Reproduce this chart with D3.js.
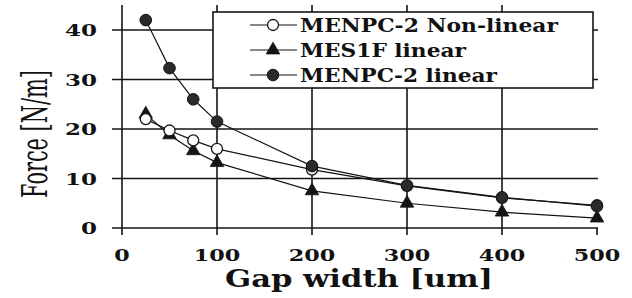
<!DOCTYPE html>
<html><head><meta charset="utf-8">
<script src="https://cdn.jsdelivr.net/npm/d3@7"></script>
<style>
html,body{margin:0;padding:0;background:#fff;}
</style></head>
<body><svg id="c" width="632" height="298"></svg>
<script>
const gapWidth = [25, 50, 75, 100, 200, 300, 400, 500];
const menpcNonLinear = [22, 19.7, 17.7, 16, 11.8, 8.5, 6.1, 4.6];
const mes1fLinear = [23, 18.8, 15.6, 13.2, 7.5, 5, 3.2, 2];
const menpcLinear = [42, 32.3, 26, 21.5, 12.5, 8.6, 6.2, 4.4];
const seriesNames = ["MENPC-2 Non-linear", "MES1F linear", "MENPC-2 linear"];
const xTicks = [0, 100, 200, 300, 400, 500];
const yTicks = [0, 10, 20, 30, 40];

const FONT = "DejaVu Serif";
const svg = d3.select("#c");
const x = d3.scaleLinear().domain([0, 500]).range([122, 597]);
const y = d3.scaleLinear().domain([0, 40]).range([228, 30]);
const ink = "#141414";

// grid
const g = svg.append("g");
g.selectAll("line.v").data(xTicks).join("line")
  .attr("x1", d => x(d)).attr("x2", d => x(d))
  .attr("y1", d => d === 500 ? y(0) : 5).attr("y2", 235)
  .attr("stroke", ink).attr("stroke-width", 1.6);
g.selectAll("line.h").data(yTicks).join("line")
  .attr("x1", 112).attr("x2", 598)
  .attr("y1", d => y(d)).attr("y2", d => y(d))
  .attr("stroke", ink).attr("stroke-width", 1.6);

// tick labels
svg.append("g").selectAll("text").data(yTicks).join("text")
  .attr("x", 97).attr("y", d => y(d) + 6)
  .attr("text-anchor", "end").style("font-size", "17px").style("font-weight", "bold")
  .style("font-family", FONT).attr("fill", "#111")
  .attr("textLength", d => String(d).length * 16).attr("lengthAdjust", "spacingAndGlyphs")
  .text(d => d);
svg.append("g").selectAll("text").data(xTicks).join("text")
  .attr("x", d => x(d)).attr("y", 261)
  .attr("text-anchor", "middle").style("font-size", "17px").style("font-weight", "bold")
  .style("font-family", FONT).attr("fill", "#111")
  .attr("textLength", d => String(d).length * 15.5).attr("lengthAdjust", "spacingAndGlyphs")
  .text(d => d);

// axis titles
svg.append("text").attr("x", 359).attr("y", 287).attr("text-anchor", "middle")
  .style("font-size", "24px").style("font-weight", "bold")
  .style("font-family", FONT).attr("fill", "#111")
  .attr("textLength", 268).attr("lengthAdjust", "spacingAndGlyphs")
  .text("Gap width [um]");
const yTitle = svg.append("text")
  .attr("text-anchor", "middle").style("font-size", "36px")
  .style("font-family", FONT).attr("fill", "#111")
  .text("Force [N/m]");
const natural = yTitle.node().getComputedTextLength() || 200;
yTitle.attr("transform", `translate(47,134) rotate(-90) scale(${128 / natural},1)`);

// series
const series = [
  {name: seriesNames[0], vals: menpcNonLinear, sym: "openCircle"},
  {name: seriesNames[1], vals: mes1fLinear, sym: "triangle"},
  {name: seriesNames[2], vals: menpcLinear, sym: "filledCircle"}
];
const line = d3.line().x(d => x(d[0])).y(d => y(d[1]));
function drawMarker(sel, sym) {
  if (sym === "triangle") {
    sel.append("path").attr("d", d3.symbol(d3.symbolTriangle, 80)())
      .attr("fill", ink).attr("stroke", ink).attr("stroke-width", 0.8);
  } else if (sym === "openCircle") {
    sel.append("circle").attr("r", 5.5).attr("fill", "#fff").attr("stroke", ink).attr("stroke-width", 1.3);
  } else {
    sel.append("circle").attr("r", 5.8).attr("fill", "#2a2a2a").attr("stroke", ink).attr("stroke-width", 1);
  }
}
const order = [1, 0, 2];
order.forEach(i => {
  const s = series[i];
  const pts = gapWidth.map((gx, j) => [gx, s.vals[j]]);
  svg.append("path").attr("d", line(pts)).attr("fill", "none")
    .attr("stroke", ink).attr("stroke-width", 1.2);
});
order.forEach(i => {
  const s = series[i];
  const pts = gapWidth.map((gx, j) => [gx, s.vals[j]]);
  svg.append("g").selectAll("g").data(pts).join("g")
    .attr("transform", d => `translate(${x(d[0])},${y(d[1])})`)
    .each(function() { drawMarker(d3.select(this), s.sym); });
});

// legend
const lg = svg.append("g");
lg.append("rect").attr("x", 213).attr("y", 12).attr("width", 380).attr("height", 76)
  .attr("fill", "#fff").attr("stroke", ink).attr("stroke-width", 1.6);
const legendLens = [258, 166, 197];
series.forEach((s, i) => {
  const cy = 25 + i * 25;
  const row = lg.append("g");
  row.append("line").attr("x1", 250).attr("x2", 297).attr("y1", cy).attr("y2", cy)
    .attr("stroke", ink).attr("stroke-width", 1.2);
  drawMarker(row.append("g").attr("transform", `translate(273,${cy})`), s.sym);
  row.append("text").attr("x", 300).attr("y", cy + 6.5)
    .style("font-size", "19px").style("font-weight", "bold")
    .style("font-family", FONT).attr("fill", "#111")
    .attr("textLength", legendLens[i]).attr("lengthAdjust", "spacingAndGlyphs")
    .text(s.name);
});
</script></body></html>
